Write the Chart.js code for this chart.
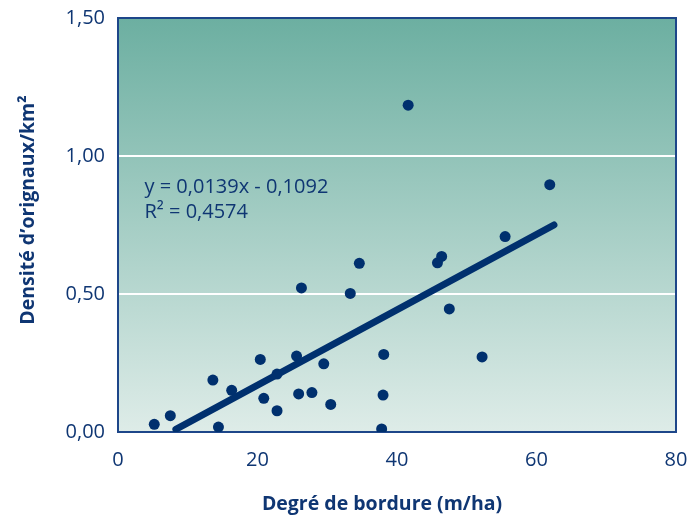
<!DOCTYPE html>
<html>
<head>
<meta charset="utf-8">
<script src="https://cdn.jsdelivr.net/npm/chart.js@4"></script>
<style>
  html, body { margin: 0; padding: 0; background: #fff; }
  #wrap { width: 687px; height: 525px; position: relative; }
</style>
</head>
<body>
<div id="wrap"><canvas id="densChart"></canvas></div>
<script>
// Data
const bordure = [5.2, 7.5, 14.4, 13.6, 16.3, 20.9, 22.8, 20.4, 22.8, 25.6, 25.9, 27.8, 29.5, 30.5,
                 26.3, 33.3, 34.6, 41.6, 61.9, 55.5, 46.4, 45.8, 47.5, 38.1, 52.2, 38.0, 37.8];
const densite = [0.028, 0.059, 0.018, 0.188, 0.151, 0.122, 0.077, 0.263, 0.21, 0.275, 0.138, 0.143, 0.247, 0.100,
                 0.522, 0.502, 0.611, 1.184, 0.896, 0.708, 0.636, 0.613, 0.446, 0.281, 0.272, 0.134, 0.011];
const trendX = [8.3, 62.5];
const trendY = [0.01, 0.75];
const xTicks = [0, 20, 40, 60, 80];
const yTicks = [0, 0.5, 1, 1.5];
const equation = ['y = 0,0139x - 0,1092', 'R² = 0,4574'];
const yTitle = 'Densité d’orignaux/km²';
const xTitle = 'Degré de bordure (m/ha)';

const navy = '#0f3673';
const font = '"Open Sans", "Noto Sans", sans-serif';

// Gradient background + frame + regression text + axis titles
const plotDeco = {
    id: 'plotDeco',
    beforeDatasetsDraw(chart) {
        const { ctx, chartArea: a } = chart;
        ctx.save();
        const g = ctx.createLinearGradient(0, a.top, 0, a.bottom);
        g.addColorStop(0, '#6cafa1');
        g.addColorStop(1, '#deece8');
        ctx.fillStyle = g;
        ctx.fillRect(a.left, a.top, a.right - a.left, a.bottom - a.top);
        // white gridlines
        const y = chart.scales.y;
        ctx.strokeStyle = '#ffffff';
        ctx.lineWidth = 2;
        [0.5, 1].forEach(v => {
            const py = Math.round(y.getPixelForValue(v));
            ctx.beginPath();
            ctx.moveTo(a.left, py);
            ctx.lineTo(a.right, py);
            ctx.stroke();
        });
        // frame
        ctx.strokeStyle = '#1d4689';
        ctx.lineWidth = 2;
        ctx.strokeRect(a.left, a.top, a.right - a.left, a.bottom - a.top);
        // equation
        ctx.fillStyle = navy;
        ctx.font = '20px ' + font;
        ctx.textBaseline = 'alphabetic';
        const x = chart.scales.x;
        ctx.fillText(equation[0], x.getPixelForValue(3.8), y.getPixelForValue(0.866));
        ctx.fillText(equation[1], x.getPixelForValue(3.8), y.getPixelForValue(0.775));
        // axis titles, both a bit off the plot's middle as in the original
        ctx.font = 'bold 19.5px ' + font;
        ctx.textAlign = 'center';
        ctx.textBaseline = 'middle';
        ctx.fillText(xTitle, 382, 504);
        ctx.translate(28, 210);
        ctx.rotate(-Math.PI / 2);
        ctx.fillText(yTitle, 0, 0);
        ctx.restore();
    }
};

const points = bordure.map((v, i) => ({ x: v, y: densite[i] }));
const trend = trendX.map((v, i) => ({ x: v, y: trendY[i] }));

new Chart(document.getElementById('densChart'), {
    type: 'scatter',
    data: {
        datasets: [
            {
                type: 'line',
                data: trend,
                borderColor: '#00306e',
                borderWidth: 7,
                borderCapStyle: 'round',
                pointRadius: 0,
                fill: false
            },
            {
                data: points,
                backgroundColor: '#00306e',
                borderWidth: 0,
                pointRadius: 5.5
            }
        ]
    },
    options: {
        responsive: true,
        maintainAspectRatio: false,
        animation: false,
        layout: { padding: { top: 18, right: 11, left: 0, bottom: 5 } },
        plugins: {
            legend: { display: false },
            tooltip: { enabled: false }
        },
        scales: {
            x: {
                type: 'linear',
                min: 0, max: 80,
                afterBuildTicks: s => { s.ticks = xTicks.map(v => ({ value: v })); },
                afterFit: s => { s.height = 88; s.paddingLeft = 0; s.paddingRight = 0; },
                grid: { display: false, drawTicks: false },
                border: { display: false },
                ticks: {
                    color: navy,
                    padding: 16,
                    font: { family: font, size: 20 },
                    callback: v => String(v)
                }
            },
            y: {
                min: 0, max: 1.5,
                afterBuildTicks: s => { s.ticks = yTicks.map(v => ({ value: v })); },
                afterFit: s => { s.width = 118; s.paddingTop = 0; s.paddingBottom = 0; },
                grid: { display: false, drawTicks: false },
                border: { display: false },
                ticks: {
                    color: navy,
                    padding: 13,
                    font: { family: font, size: 20 },
                    callback: v => v.toFixed(2).replace('.', ',')
                }
            }
        }
    },
    plugins: [plotDeco]
});
</script>
</body>
</html>
